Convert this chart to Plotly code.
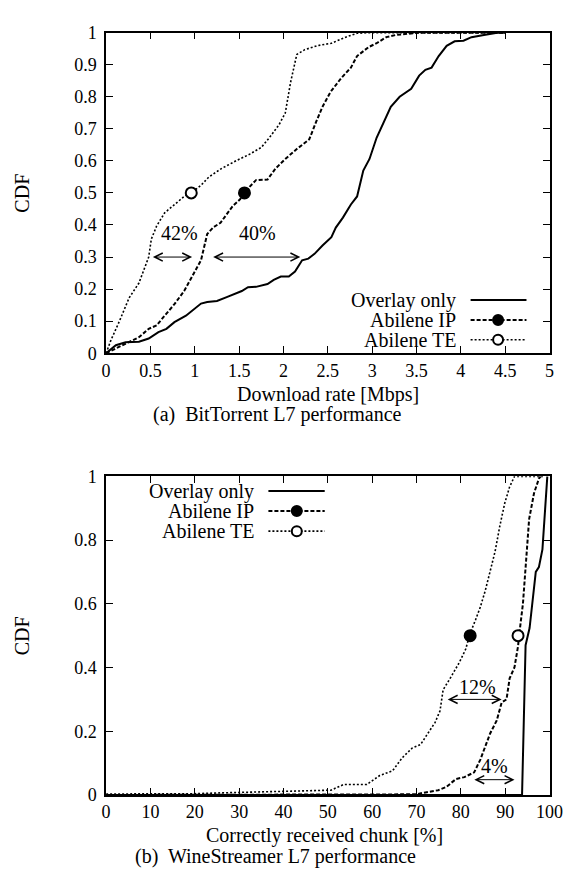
import plotly.graph_objects as go

# ---------------- data: (a) BitTorrent ----------------
bt_overlay_x = [0, 0.11, 0.22, 0.37, 0.48, 0.59, 0.68, 0.77, 0.9, 1.07, 1.14, 1.25, 1.36, 1.47, 1.53, 1.6,
                1.69, 1.82, 1.89, 1.97, 2.06, 2.13, 2.21, 2.28, 2.35, 2.44, 2.54, 2.59, 2.67, 2.76, 2.83, 2.9,
                2.97, 3.05, 3.12, 3.21, 3.31, 3.44, 3.53, 3.6, 3.67, 3.75, 3.84, 3.93, 4.03, 4.12, 4.26, 4.41, 4.5]
bt_overlay_y = [0, 0.025, 0.034, 0.036, 0.046, 0.066, 0.076, 0.097, 0.117, 0.155, 0.16, 0.163, 0.175, 0.188,
                0.194, 0.206, 0.207, 0.216, 0.229, 0.239, 0.239, 0.255, 0.29, 0.295, 0.31, 0.336, 0.362, 0.392,
                0.423, 0.464, 0.489, 0.57, 0.606, 0.672, 0.713, 0.769, 0.8, 0.825, 0.866, 0.884, 0.891, 0.927,
                0.959, 0.973, 0.975, 0.986, 0.993, 1.0, 1.0]
bt_ip_x = [0, 0.11, 0.26, 0.37, 0.48, 0.57, 0.66, 0.77, 0.88, 0.99, 1.07, 1.14, 1.21, 1.29, 1.36, 1.43, 1.51,
           1.56, 1.62, 1.69, 1.82, 1.91, 2.02, 2.15, 2.29, 2.37, 2.44, 2.53, 2.65, 2.76, 2.83, 2.96, 3.05, 3.16,
           3.27, 3.46, 3.53, 4.5]
bt_ip_y = [0, 0.015, 0.034, 0.05, 0.076, 0.087, 0.117, 0.153, 0.194, 0.25, 0.29, 0.372, 0.393, 0.407, 0.434,
           0.46, 0.48, 0.5, 0.52, 0.54, 0.542, 0.576, 0.606, 0.637, 0.667, 0.723, 0.769, 0.815, 0.858, 0.891,
           0.927, 0.955, 0.967, 0.986, 0.993, 0.998, 1.0, 1.0]
bt_te_x = [0, 0.055, 0.15, 0.26, 0.37, 0.48, 0.51, 0.57, 0.66, 0.79, 0.88, 0.96, 1.07, 1.16, 1.3, 1.47, 1.62,
           1.75, 1.84, 1.95, 2.02, 2.08, 2.15, 2.24, 2.39, 2.54, 2.63, 2.72, 2.83, 2.94, 4.5]
bt_te_y = [0, 0.041, 0.1, 0.173, 0.219, 0.3, 0.356, 0.397, 0.438, 0.469, 0.489, 0.5, 0.524, 0.55, 0.576, 0.601,
           0.621, 0.642, 0.672, 0.713, 0.749, 0.845, 0.932, 0.947, 0.96, 0.967, 0.978, 0.988, 0.998, 1.0, 1.0]
bt_ip_mark = [1.56, 0.5]
bt_te_mark = [0.96, 0.5]
bt_arrow_x0 = [0.51, 1.19]
bt_arrow_x1 = [0.97, 2.19]
bt_arrow_y = [0.3, 0.3]
bt_arrow_text = ["42%", "40%"]
bt_arrow_text_x = [0.83, 1.71]
bt_arrow_text_y = [0.375, 0.375]

# ---------------- data: (b) WineStreamer ----------------
ws_overlay_x = [0, 93.8, 94.6, 95.5, 96.9, 97.6, 98.4, 99.1, 99.5]
ws_overlay_y = [0, 0, 0.47, 0.524, 0.7, 0.715, 0.771, 0.918, 1.0]
ws_ip_x = [0, 67.6, 69.8, 72, 74.9, 76.7, 78.9, 80.8, 83, 84.4, 85.5, 86.6, 88.1, 89.2, 90.3, 91, 92.1, 92.9,
           93.2, 94, 94.7, 95.4, 96.5, 97.6, 98]
ws_ip_y = [0, 0, 0.002, 0.008, 0.015, 0.025, 0.05, 0.056, 0.071, 0.111, 0.153, 0.193, 0.234, 0.29, 0.3, 0.366,
           0.401, 0.467, 0.508, 0.6, 0.733, 0.866, 0.947, 0.993, 1.0]
ws_te_x = [0, 10, 20, 27, 35, 45, 50.7, 53.6, 58.8, 61.7, 64.6, 66.8, 69, 70.9, 72.7, 74.2, 75.3, 76, 77.8,
           79.7, 81.1, 82.1, 83.3, 84.4, 85.5, 86.6, 87.7, 88.8, 89.9, 91, 92.1, 98.5]
ws_te_y = [0.003, 0.003, 0.004, 0.007, 0.009, 0.012, 0.015, 0.033, 0.033, 0.061, 0.076, 0.117, 0.147, 0.158,
           0.198, 0.228, 0.264, 0.33, 0.371, 0.417, 0.458, 0.508, 0.549, 0.59, 0.641, 0.702, 0.763, 0.845, 0.916,
           0.967, 1.0, 1.0]
ws_ip_mark = [82.1, 0.5]
ws_te_mark = [92.9, 0.5]
ws_arrow_x0 = [76.7, 82.7]
ws_arrow_x1 = [89.2, 92.1]
ws_arrow_y = [0.3, 0.048]
ws_arrow_text = ["12%", "4%"]
ws_arrow_text_x = [83.7, 87.7]
ws_arrow_text_y = [0.338, 0.09]

series_names = ["Overlay only", "Abilene IP", "Abilene TE"]

# ---------------- styling ----------------
W, H = 572, 882
FONT = "Liberation Serif"
FS_TICK = 18
FS_TXT = 20
styles = [dict(color="black", width=2, dash="solid"),
          dict(color="black", width=2, dash="4px,2px"),
          dict(color="black", width=1.6, dash="2px,2px")]

def px_x(p):
    return p / W

def px_y(p):
    return 1 - p / H

X0, X1 = 97, 554
top_dom = [px_y(343), px_y(15)]
bot_dom = [px_y(795), px_y(469)]

fig = go.Figure()

panels = [
    dict(xa="x", ya="y",
         series=[(bt_overlay_x, bt_overlay_y), (bt_ip_x, bt_ip_y), (bt_te_x, bt_te_y)],
         marks=[bt_ip_mark, bt_te_mark],
         arrows=(bt_arrow_x0, bt_arrow_x1, bt_arrow_y, bt_arrow_text, bt_arrow_text_x, bt_arrow_text_y),
         legend=dict(text_x=0.794, s0=0.822, s1=0.948, m=0.884, rows=[0.166, 0.104, 0.042])),
    dict(xa="x2", ya="y2",
         series=[(ws_overlay_x, ws_overlay_y), (ws_ip_x, ws_ip_y), (ws_te_x, ws_te_y)],
         marks=[ws_ip_mark, ws_te_mark],
         arrows=(ws_arrow_x0, ws_arrow_x1, ws_arrow_y, ws_arrow_text, ws_arrow_text_x, ws_arrow_text_y),
         legend=dict(text_x=0.338, s0=0.366, s1=0.493, m=0.430, rows=[0.954, 0.891, 0.828])),
]

annotations = []
shapes = []
for pnl in panels:
    xa, ya = pnl["xa"], pnl["ya"]
    for (xs, ys), st, nm in zip(pnl["series"], styles, series_names):
        fig.add_trace(go.Scatter(x=xs, y=ys, mode="lines", line=st, name=nm,
                                 xaxis=xa, yaxis=ya, showlegend=False, hoverinfo="skip"))
    fills = ["black", "white"]
    for mk, fc in zip(pnl["marks"], fills):
        fig.add_trace(go.Scatter(x=[mk[0]], y=[mk[1]], mode="markers",
                                 marker=dict(symbol="circle", size=11, color=fc,
                                             line=dict(color="black", width=2)),
                                 xaxis=xa, yaxis=ya, showlegend=False, hoverinfo="skip"))
    ax0, ax1, ay, atxt, atx, aty = pnl["arrows"]
    for a0, a1, yv, t, tx, ty in zip(ax0, ax1, ay, atxt, atx, aty):
        annotations.append(dict(x=a1, y=yv, ax=a0, ay=yv, xref=xa, yref=ya, axref=xa, ayref=ya,
                                text="", showarrow=True, arrowhead=5, startarrowhead=5,
                                arrowside="end+start", arrowsize=1.6, startarrowsize=1.6,
                                arrowwidth=1, arrowcolor="black"))
        annotations.append(dict(x=tx, y=ty, xref=xa, yref=ya, text=t, showarrow=False,
                                font=dict(family=FONT, size=FS_TXT, color="black")))
    lg = pnl["legend"]
    xd, yd = xa + " domain", ya + " domain"
    for i, (nm, st, ry) in enumerate(zip(series_names, styles, lg["rows"])):
        annotations.append(dict(x=lg["text_x"], y=ry, xref=xd, yref=yd, text=nm, showarrow=False,
                                xanchor="right", yanchor="middle",
                                font=dict(family=FONT, size=FS_TXT, color="black")))
        shapes.append(dict(type="line", xref=xd, yref=yd, x0=lg["s0"], x1=lg["s1"], y0=ry, y1=ry,
                           line=st))
        if i > 0:
            fc = "black" if i == 1 else "white"
            shapes.append(dict(type="circle", xref=xd, yref=yd, xsizemode="pixel", ysizemode="pixel",
                               xanchor=lg["m"], yanchor=ry, x0=-5, x1=5, y0=-5, y1=5,
                               fillcolor=fc, line=dict(color="black", width=2)))

axis_common = dict(showline=True, linecolor="black", linewidth=1.5, mirror="ticks", ticks="inside",
                   ticklen=7, tickcolor="black", tickwidth=1, showgrid=False, zeroline=False,
                   tickfont=dict(family=FONT, size=FS_TICK, color="black"))

fig.update_layout(
    width=W, height=H, margin=dict(l=0, r=0, t=0, b=0),
    paper_bgcolor="white", plot_bgcolor="white", showlegend=False,
    xaxis=dict(domain=[px_x(X0), px_x(X1)], range=[0, 5], dtick=0.5, anchor="y", **axis_common),
    yaxis=dict(domain=top_dom, range=[0, 1], dtick=0.1, anchor="x", ticklabelstandoff=4, **axis_common),
    xaxis2=dict(domain=[px_x(X0), px_x(X1)], range=[0, 100], dtick=10, anchor="y2", **axis_common),
    yaxis2=dict(domain=bot_dom, range=[0, 1], dtick=0.2, anchor="x2", ticklabelstandoff=4, **axis_common),
    annotations=annotations, shapes=shapes,
)

texts = [
    ("Download rate [Mbps]", px_x(326), px_y(385), 0),
    ("(a)  BitTorrent L7 performance", px_x(274), px_y(406), 0),
    ("Correctly received chunk [%]", px_x(322), px_y(836), 0),
    ("(b)  WineStreamer L7 performance", px_x(272), px_y(858), 0),
    ("CDF", px_x(10), px_y(179), -90),
    ("CDF", px_x(10), px_y(632), -90),
]
for t, x, y, ang in texts:
    fig.add_annotation(x=x, y=y, xref="paper", yref="paper", text=t, showarrow=False, textangle=ang,
                       xanchor="center", yanchor="middle",
                       font=dict(family=FONT, size=FS_TXT, color="black"))

fig.write_html("out.html")
